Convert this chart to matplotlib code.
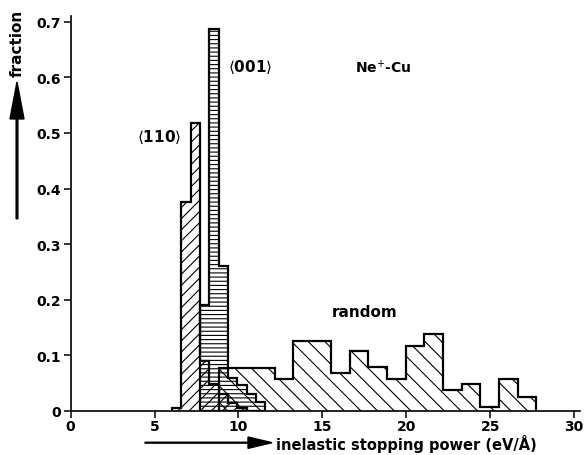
import matplotlib
matplotlib.use("Agg")
import matplotlib.pyplot as plt
from matplotlib.patches import FancyArrow

# ---- data ----
edges_110 = [6.03, 6.59, 7.15, 7.71, 8.26, 8.82, 9.38, 9.93, 10.49]
frac_110 = [0.005, 0.375, 0.518, 0.09, 0.048, 0.03, 0.015, 0.005]

edges_001 = [7.71, 8.26, 8.82, 9.38, 9.93, 10.49, 11.05, 11.60]
frac_001 = [0.19, 0.687, 0.26, 0.06, 0.047, 0.03, 0.016]

edges_random = [8.82, 9.93, 11.05, 12.16, 13.27, 15.50, 16.62, 17.73, 18.84,
                19.96, 21.07, 22.19, 23.30, 24.41, 25.53, 26.64, 27.76]
frac_random = [0.077, 0.077, 0.077, 0.058, 0.125, 0.068, 0.108, 0.079, 0.058,
               0.117, 0.138, 0.038, 0.049, 0.007, 0.058, 0.025]

x_ticks = [0, 5, 10, 15, 20, 25, 30]
x_ticklabels = ["0", "5", "10", "15", "20", "25", "30"]
y_ticks = [0, 0.1, 0.2, 0.3, 0.4, 0.5, 0.6, 0.7]
y_ticklabels = ["0", "0.1", "0.2", "0.3", "0.4", "0.5", "0.6", "0.7"]

plt.rcParams['hatch.linewidth'] = 0.8
plt.rcParams['font.family'] = ['DejaVu Sans']

fig = plt.figure(figsize=(5.84, 4.56), dpi=100)
ax = fig.add_axes([0.121, 0.0965, 0.872, 0.866])

series = [
    (edges_random, frac_random, '\\\\'),
    (edges_110, frac_110, '///'),
    (edges_001, frac_001, '----'),
]
for e, v, h in series:
    ax.stairs(v, e, baseline=0, fill=True, hatch=h, facecolor='none',
              edgecolor='black', linewidth=0)
for e, v, h in series:
    ax.stairs(v, e, baseline=0, fill=False, color='black', linewidth=1.6)

ax.set_xlim(0, 30.35)
ax.set_ylim(0, 0.71)
for s in ['top', 'right']:
    ax.spines[s].set_visible(False)
for s in ['left', 'bottom']:
    ax.spines[s].set_linewidth(1.2)

ax.set_xticks(x_ticks)
ax.set_xticklabels(x_ticklabels, fontsize=10, fontweight='bold')
ax.set_yticks(y_ticks)
ax.set_yticklabels(y_ticklabels, fontsize=10, fontweight='bold')
ax.tick_params(axis='x', direction='out', length=5, width=1.1, pad=1)
ax.tick_params(axis='y', direction='out', length=5, width=1.1, pad=2)

# annotations
ax.text(5.3, 0.495, r'$\langle$110$\rangle$', fontsize=11, fontweight='bold',
        ha='center', va='center')
ax.text(10.7, 0.62, r'$\langle$001$\rangle$', fontsize=11, fontweight='bold',
        ha='center', va='center')
ax.text(18.6, 0.62, r'Ne$^{+}$-Cu', fontsize=10, fontweight='bold',
        ha='center', va='center')
ax.text(17.5, 0.178, 'random', fontsize=11, fontweight='bold',
        ha='center', va='center')

# axis label arrows
fig.patches.append(FancyArrow(
    145/584, 0.027, 127/584, 0, width=0.002, head_width=0.025,
    head_length=24/584, length_includes_head=True, color='black',
    transform=fig.transFigure))
fig.text(276/584, 0.027, 'inelastic stopping power (eV/Å)', fontsize=10.5,
         fontweight='bold', ha='left', va='center')

fig.patches.append(FancyArrow(
    17/584, 0.518, 0, 0.30, width=0.003, head_width=0.024,
    head_length=0.081, length_includes_head=True, color='black',
    transform=fig.transFigure))
fig.text(17/584, 0.905, 'fraction', fontsize=11, fontweight='bold',
         rotation=90, ha='center', va='center')

fig.savefig('out.png', dpi=100)
